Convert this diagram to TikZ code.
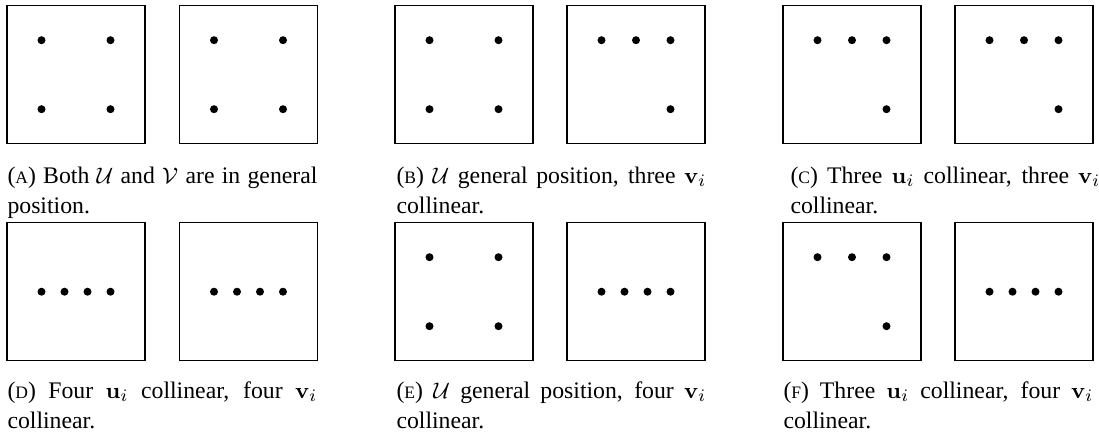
\documentclass[tikz,border=0pt]{standalone}
\usepackage[no-math]{fontspec}
\setmainfont{Liberation Serif}
\usepackage{amsmath}
\usepackage{tikz}
\usetikzlibrary{positioning}
\newcommand{\sublabel}[1]{({\fontsize{7}{9}\selectfont #1})}
\newcommand{\capfont}{\fontsize{9.5}{12}\selectfont\hyphenpenalty=10000\relax}
\tikzset{
	framebox/.style={
			rectangle,
			draw=black,
			line width=0.45pt,
			minimum size=55.2pt,
			inner sep=0pt
		},
	dotnode/.style={
			circle,
			fill=black,
			minimum size=3.2pt,
			inner sep=0pt
		},
	captionnode/.style={
			anchor=base west,
			text width=124pt,
			align=justify,
			inner sep=0pt,
			font=\capfont
		}
}

\begin{document}
\begin{tikzpicture}[x=0.4pt, y=-0.4pt]
    \useasboundingbox (0,0) rectangle (1099,434);

    % boxes, top row
    \node[framebox] (a1) at (76,74.7)   {};
    \node[framebox] (a2) at (248.5,74.7) {};
    \node[framebox] (b1) at (464,74.7)  {};
    \node[framebox] (b2) at (636,74.7)  {};
    \node[framebox] (c1) at (852,74.7)  {};
    \node[framebox] (c2) at (1024,74.7) {};
    % boxes, bottom row
    \node[framebox] (d1) at (76,291.7)   {};
    \node[framebox] (d2) at (248.5,291.7) {};
    \node[framebox] (e1) at (464,291.7)  {};
    \node[framebox] (e2) at (636,291.7)  {};
    \node[framebox] (f1) at (852,291.7)  {};
    \node[framebox] (f2) at (1024,291.7) {};

    % general position
    \foreach \b in {a1,a2,b1,e1} {
        \foreach \dx/\dy [count=\k] in {-1/-1,1/-1,-1/1,1/1}
            \node[dotnode] (\b-\k) at ([shift={(\dx*34.5,\dy*34.5)}]\b.center) {};
    }
    % three collinear
    \foreach \b in {b2,c1,c2,f1} {
        \foreach \dx/\dy [count=\k] in {-1/-1,0/-1,1/-1,1/1}
            \node[dotnode] (\b-\k) at ([shift={(\dx*34.5,\dy*34.5)}]\b.center) {};
    }
    % four collinear
    \foreach \b in {d1,d2,e2,f2} {
        \foreach \dx [count=\k] in {-3,-1,1,3}
            \node[dotnode] (\b-\k) at ([shift={(\dx*11.5,0)}]\b.center) {};
    }

    \node[captionnode] (capa) at (7,183)
        {\makebox[\linewidth][s]{\sublabel{A} Both $\mathcal{U}$ and $\mathcal{V}$ are in general}\linebreak position.};
    \node[captionnode] (capb) at (396,183)
        {\sublabel{B} $\mathcal{U}$ general position, three $\mathbf{v}_i$\linebreak collinear.};
    \node[captionnode] (capc) at (790,183)
        {\sublabel{C} Three $\mathbf{u}_i$ collinear, three $\mathbf{v}_i$\linebreak collinear.};
    \node[captionnode] (capd) at (7,398)
        {\sublabel{D} Four $\mathbf{u}_i$ collinear, four $\mathbf{v}_i$\linebreak collinear.};
    \node[captionnode] (cape) at (396,398)
        {\sublabel{E} $\mathcal{U}$ general position, four $\mathbf{v}_i$\linebreak collinear.};
    \node[captionnode] (capf) at (783,398)
        {\sublabel{F} Three $\mathbf{u}_i$ collinear, four $\mathbf{v}_i$\linebreak collinear.};
\end{tikzpicture}
\end{document}
